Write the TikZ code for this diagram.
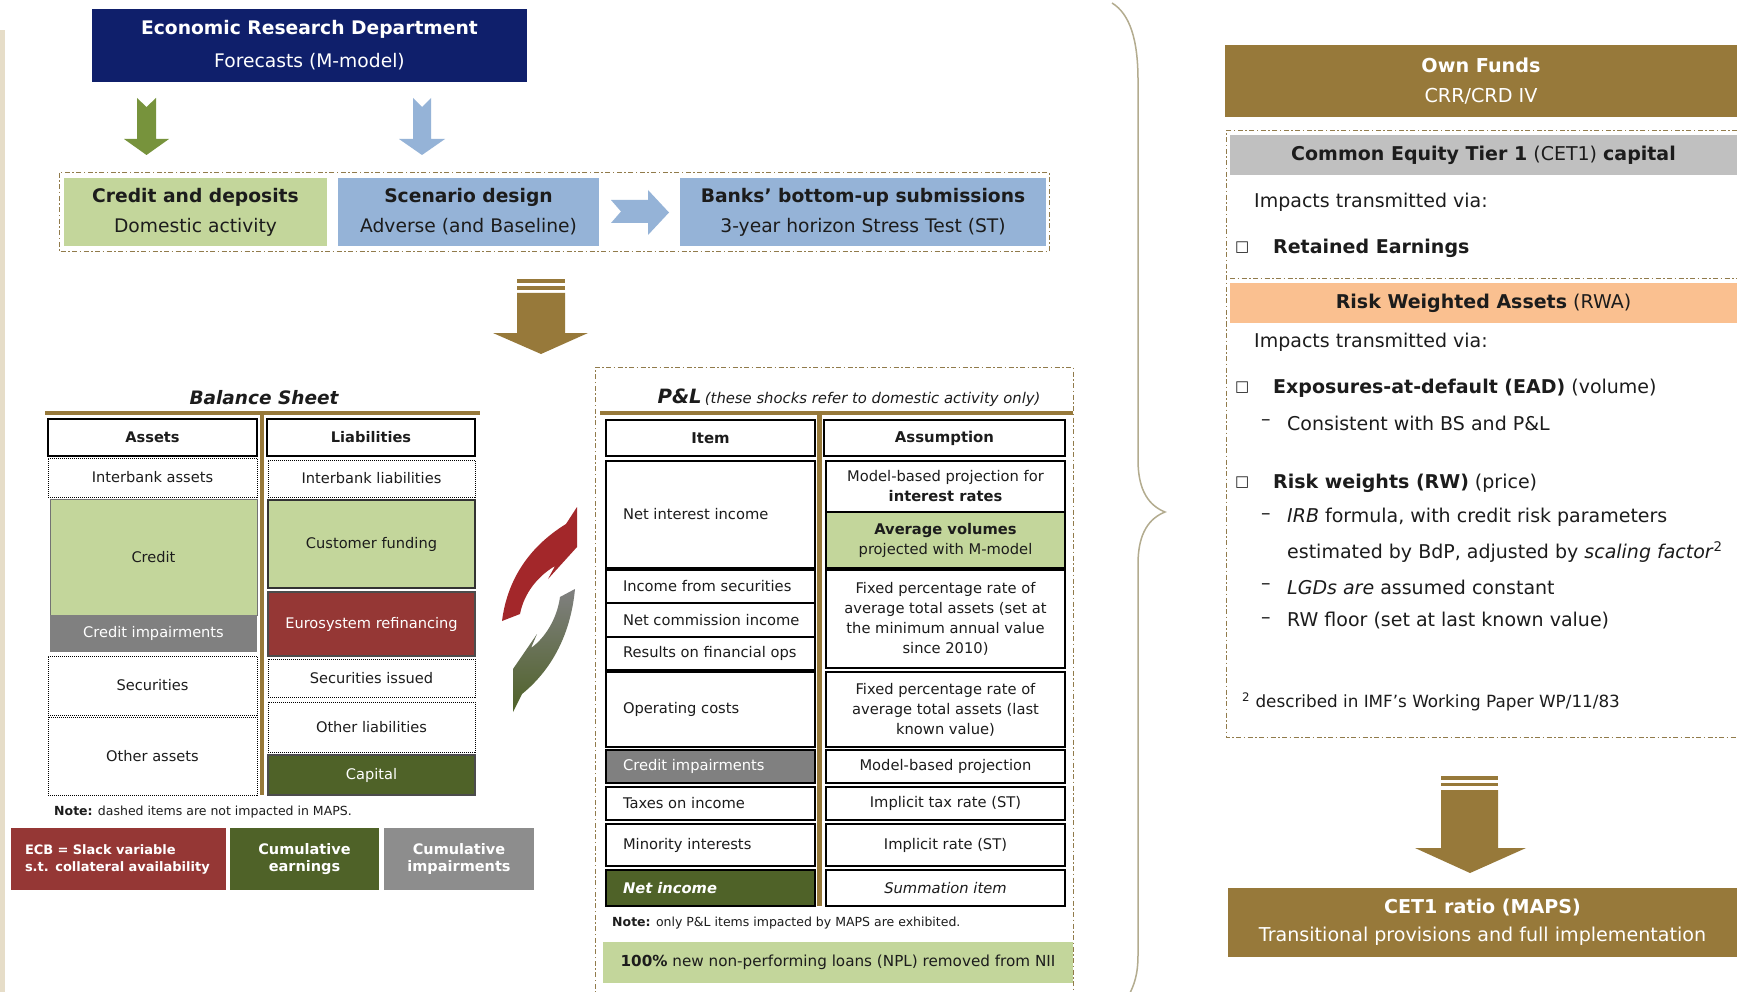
\documentclass[tikz,border=0pt]{standalone}
\usepackage{fontspec}
\setmainfont{DejaVu Sans}
\newfontfamily\verd{DejaVu Sans}
\usetikzlibrary{positioning,calc}
\definecolor{deepnavy}{HTML}{0F1F6B}
\definecolor{leaf}{HTML}{77933C}
\definecolor{palegreen}{HTML}{C3D69B}
\definecolor{paleblue}{HTML}{95B3D7}
\definecolor{bronze}{HTML}{97793A}
\definecolor{brick}{HTML}{953735}
\definecolor{swirlred}{HTML}{A3272A}
\definecolor{moss}{HTML}{4F6228}
\definecolor{midgray}{HTML}{808080}
\definecolor{silverhd}{HTML}{C0C0C0}
\definecolor{peach}{HTML}{FAC090}
\definecolor{sand}{HTML}{E6DDC8}
\definecolor{khaki}{HTML}{B3AC8F}
\definecolor{ink}{HTML}{1C1C1C}

\begin{document}
\begin{tikzpicture}[x=1pt, y=-1pt, text=ink,
  frame/.style={draw=bronze!75!gray, line width=1pt,
                dash pattern=on 5pt off 2.5pt on 1.5pt off 2.5pt},
  topbox/.style={inner sep=0pt, align=center, minimum height=68pt,
                 font=\fontsize{18.7}{30}\selectfont},
  bscell/.style={inner sep=0pt, align=center, minimum width=207pt,
                 font=\fontsize{14.6}{17}\selectfont},
  dotcell/.style={bscell, draw=black, line width=0.8pt, dash pattern=on 1pt off 1pt},
  bshead/.style={bscell, draw=black, line width=2.5pt,
                 font=\bfseries\fontsize{14.6}{17}\selectfont},
  legend/.style={inner sep=0pt, align=center, minimum height=62pt, text=white,
                 font=\bfseries\fontsize{14.5}{17}\selectfont},
  plhead/.style={draw=black, line width=2.5pt, inner sep=0pt, minimum height=36pt,
                 font=\verd\bfseries\fontsize{14.9}{17}\selectfont},
  plitem/.style={draw=black, line width=1.5pt, inner xsep=17pt, inner ysep=0pt,
                 minimum width=209pt, font=\verd\fontsize{14.7}{20}\selectfont},
  assum/.style={draw=black, line width=1.5pt, inner sep=0pt, minimum width=239pt,
                align=center, font=\verd\fontsize{14.7}{20}\selectfont},
  banner/.style={fill=bronze, text=white, inner sep=0pt, align=center,
                 font=\fontsize{19.2}{30}\selectfont},
  bar/.style={inner sep=0pt, minimum width=507pt, minimum height=40pt,
              font=\fontsize{19}{22}\selectfont},
  rline/.style={anchor=west, inner sep=0pt, font=\fontsize{19}{22}\selectfont},
  tick/.style={anchor=west, inner sep=0pt, font=\fontsize{15}{17}\selectfont},
  note/.style={anchor=west, inner sep=0pt, font=\verd\fontsize{12.5}{14}\selectfont},
]
\useasboundingbox (0,0) rectangle (1737,992);
\fill[white] (0,0) rectangle (1737,992);
\fill[sand] (0,30) rectangle (5,992);

% ---- Forecasts and scenario -------------------------------------------------
\node[fill=deepnavy, text=white, minimum width=435pt, minimum height=73pt,
      inner sep=0pt, align=center, font=\fontsize{18.7}{33}\selectfont]
  (erd) at (309.5,45.5) {\textbf{Economic Research Department}\\Forecasts (M-model)};

\fill[leaf] (137,98) -- (146.5,107) -- (156,98) -- (156,139) -- (169,139)
  -- (146.5,155) -- (124,139) -- (137,139) -- cycle;
\fill[paleblue] (413,98) -- (422,107) -- (431,98) -- (431,139) -- (445,139)
  -- (422,155) -- (399,139) -- (413,139) -- cycle;

\draw[frame] (59,173) rectangle (1049,252);
\node[topbox, fill=palegreen, minimum width=263pt] (cred) at (195.5,212)
  {\textbf{Credit and deposits}\\Domestic activity};
\node[topbox, fill=paleblue, minimum width=261pt] (scen) at (468.5,212)
  {\textbf{Scenario design}\\Adverse (and Baseline)};
\node[topbox, fill=paleblue, minimum width=366pt] (banks) at (863,212)
  {\textbf{Banks’ bottom-up submissions}\\3-year horizon Stress Test (ST)};
\fill[paleblue] (611,200) -- (648,200) -- (648,190) -- (669,212.5) -- (648,235)
  -- (648,223) -- (611,223) -- (621,211.5) -- cycle;

% striped arrow down to the two statements
\fill[bronze] (517,279) rectangle (565,283);
\fill[bronze] (517,286.5) rectangle (565,290);
\fill[bronze] (517,293) -- (565,293) -- (565,333) -- (588,333) -- (541,354)
  -- (493,333) -- (517,333) -- cycle;

% ---- Balance sheet ----------------------------------------------------------
\node[font=\bfseries\itshape\fontsize{18.5}{20}\selectfont] (bstitle) at (264,398) {Balance Sheet};
\draw[bronze, line width=4pt] (45,413) -- (480,413);
\draw[bronze, line width=4pt] (262,413) -- (262,795);

\node[bshead, minimum width=209pt, minimum height=37pt] (assets) at (152.5,437.5) {Assets};
\node[bshead, minimum width=208pt, minimum height=37pt] (liabs) at (371,437.5) {Liabilities};

\node[dotcell, minimum width=209pt, minimum height=39pt] (ibka) at (152.5,477.5) {Interbank assets};
\node[bscell, fill=palegreen, draw=black!55, line width=0.8pt, minimum height=116pt]
  (credit) at (153.5,557) {Credit};
\node[bscell, fill=midgray, text=white, minimum height=37pt] (cimpa) at (153.5,633.5) {Credit impairments};
\node[dotcell, minimum width=209pt, minimum height=59pt] (secs) at (152.5,685.5) {Securities};
\node[dotcell, minimum width=209pt, minimum height=78pt] (otha) at (152.5,756) {Other assets};

\node[dotcell, minimum height=37pt] (ibkl) at (371.5,478.5) {Interbank liabilities};
\node[bscell, fill=palegreen, draw=black!80, line width=1.2pt, minimum height=88pt]
  (custf) at (371.5,544) {Customer funding};
\node[bscell, fill=brick, text=white, draw=black!70, line width=1.2pt, minimum height=64pt]
  (euro) at (371.5,624) {Eurosystem refinancing};
\node[dotcell, minimum height=38pt] (secsi) at (371.5,678) {Securities issued};
\node[dotcell, minimum height=50pt] (othl) at (371.5,727) {Other liabilities};
\node[bscell, fill=moss, text=white, draw=black!70, line width=1.2pt, minimum height=40pt]
  (capital) at (371.5,775) {Capital};

\node[note] (bsnote) at (54,812) {\textbf{Note:} dashed items are not impacted in MAPS.};

\node[legend, fill=brick, text width=187pt, inner xsep=14pt, align=left,
      font=\bfseries\fontsize{13}{17}\selectfont]
  (ecb) at (118.5,859) {ECB = Slack variable\\s.t. collateral availability};
\node[legend, fill=moss, minimum width=149pt] (cumearn) at (304.5,859) {Cumulative\\earnings};
\node[legend, fill=midgray!90!white, minimum width=150pt] (cumimp) at (459,859) {Cumulative\\impairments};

% feedback between the two statements
\fill[swirlred] (502,621) .. controls (507,582) and (527,548) .. (566,524) -- (577,507)
  -- (577,547) -- (548,579) -- (555,566) .. controls (538,576) and (524,593) .. (520,614) -- cycle;
\shade[top color=midgray, bottom color=moss] (575,589) .. controls (571,631) and (554,668) .. (522,694)
  -- (513,712) -- (513,669) -- (537,634) -- (531,648) .. controls (545,638) and (557,619) .. (560,597) -- cycle;

% ---- P&L --------------------------------------------------------------------
\draw[frame] (595,1000) -- (595,367) -- (1073,367) -- (1073,1000);
\node[font=\verd] (pltitle) at (849,398)
  {{\bfseries\itshape\fontsize{19.7}{22}\selectfont P\&L}
   {\itshape\fontsize{14.8}{17}\selectfont (these shocks refer to domestic activity only)}};
\draw[bronze, line width=4pt] (600,413) -- (1073,413);
\draw[bronze, line width=5pt] (819.5,413) -- (819.5,906);

\node[plhead, minimum width=209pt] (itemh) at (710.5,438) {Item};
\node[plhead, minimum width=241pt] (assumh) at (944.5,438) {Assumption};

\node[plitem, minimum height=107pt] (nii) at (710.5,514.5) {\makebox[175pt][l]{Net interest income}};
\node[plitem, minimum height=33pt] (ifs) at (710.5,586.5) {\makebox[175pt][l]{Income from securities}};
\node[plitem, minimum height=34pt] (nci) at (710.5,620) {\makebox[175pt][l]{Net commission income}};
\node[plitem, minimum height=33pt] (rfo) at (710.5,653.5) {\makebox[175pt][l]{Results on financial ops}};
\node[plitem, minimum height=75pt] (opc) at (710.5,709.5) {\makebox[175pt][l]{Operating costs}};
\node[plitem, fill=midgray, text=white, minimum height=33pt] (cimp) at (710.5,766.5)
  {\makebox[175pt][l]{Credit impairments}};
\node[plitem, minimum height=33pt] (tax) at (710.5,803.5) {\makebox[175pt][l]{Taxes on income}};
\node[plitem, minimum height=42pt] (mino) at (710.5,845) {\makebox[175pt][l]{Minority interests}};
\node[plitem, fill=moss, text=white, minimum height=36pt] (ninc) at (710.5,888)
  {\makebox[175pt][l]{\bfseries\itshape Net income}};

\node[assum, minimum height=51pt] (mbp) at (945.5,486.5) {Model-based projection for\\\textbf{interest rates}};
\node[assum, fill=palegreen, minimum height=56pt] (avol) at (945.5,540)
  {\textbf{Average volumes}\\projected with M-model};
\node[assum, minimum height=98pt] (fpr) at (945.5,619)
  {Fixed percentage rate of\\average total assets (set at\\the minimum annual value\\since 2010)};
\node[assum, minimum height=75pt] (fprl) at (945.5,709.5)
  {Fixed percentage rate of\\average total assets (last\\known value)};
\node[assum, minimum height=33pt] (mbpc) at (945.5,766.5) {Model-based projection};
\node[assum, minimum height=33pt] (itr) at (945.5,803.5) {Implicit tax rate (ST)};
\node[assum, minimum height=42pt] (irt) at (945.5,845) {Implicit rate (ST)};
\node[assum, minimum height=36pt] (summ) at (945.5,888) {\textit{Summation item}};

\node[note] (plnote) at (612,923) {\textbf{Note:} only P\&L items impacted by MAPS are exhibited.};
\node[fill=palegreen, minimum width=470pt, minimum height=41pt, inner sep=0pt,
      font=\verd\fontsize{15.2}{18}\selectfont]
  (npl) at (838,962.5) {\textbf{100\%} new non-performing loans (NPL) removed from NII};

% ---- Capital side -----------------------------------------------------------
\draw[khaki, line width=1.5pt] (1112,3) .. controls (1130,14) and (1138,40) .. (1138,80)
  -- (1138,460) .. controls (1138,492) and (1150,506) .. (1165,512)
  .. controls (1150,518) and (1138,532) .. (1138,564)
  -- (1138,955) .. controls (1138,975) and (1134,985) .. (1129,995);

\node[banner, minimum width=512pt, minimum height=72pt] (ownf) at (1481,81)
  {\textbf{Own Funds}\\CRR/CRD IV};

\draw[frame] (1737,131) -- (1226,131) -- (1226,737) -- (1737,737);
\node[bar, fill=silverhd] (cet1h) at (1483.5,155.5)
  {\textbf{Common Equity Tier 1} (CET1) \textbf{capital}};
\node[rline] (via1) at (1254,202) {Impacts transmitted via:};
\node[tick] (b1) at (1235,248) {□};
\node[rline] (reteq) at (1273,248) {\textbf{Retained Earnings}};

\draw[frame] (1230,279) -- (1737,279);
\node[bar, fill=peach] (rwah) at (1483.5,303) {\textbf{Risk Weighted Assets} (RWA)};
\node[rline] (via2) at (1254,342) {Impacts transmitted via:};
\node[tick] (b2) at (1235,388) {□};
\node[rline] (ead) at (1273,388) {\textbf{Exposures-at-default (EAD)} (volume)};
\node[rline] (d1) at (1261,423) {–};
\node[rline] (cons) at (1287,423) {Consistent with BS and P\&L};
\node[tick] (b3) at (1235,483) {□};
\node[rline] (rw) at (1273,483) {\textbf{Risk weights (RW)} (price)};
\node[rline] (d2) at (1261,517) {–};
\node[rline] (irb) at (1287,517) {\textit{IRB} formula, with credit risk parameters};
\node[rline] (irb2) at (1287,552) {estimated by BdP, adjusted by \textit{scaling factor}\textsuperscript{2}};
\node[rline] (d3) at (1261,587) {–};
\node[rline] (lgd) at (1287,587) {\textit{LGDs are} assumed constant};
\node[rline] (d4) at (1261,621) {–};
\node[rline] (floor) at (1287,621) {RW floor (set at last known value)};
\node[note, font=\verd\fontsize{16.8}{19}\selectfont] (fn) at (1242,702)
  {\textsuperscript{2} described in IMF’s Working Paper WP/11/83};

\fill[bronze] (1441,776) rectangle (1498,780);
\fill[bronze] (1441,782.5) rectangle (1498,786);
\fill[bronze] (1441,790) -- (1498,790) -- (1498,848) -- (1526,848) -- (1470,873)
  -- (1415,848) -- (1441,848) -- cycle;

\node[banner, minimum width=509pt, minimum height=69pt, font=\fontsize{19.1}{28}\selectfont]
  (ratio) at (1482.5,922.5) {\textbf{CET1 ratio (MAPS)}\\Transitional provisions and full implementation};

\end{tikzpicture}
\end{document}
